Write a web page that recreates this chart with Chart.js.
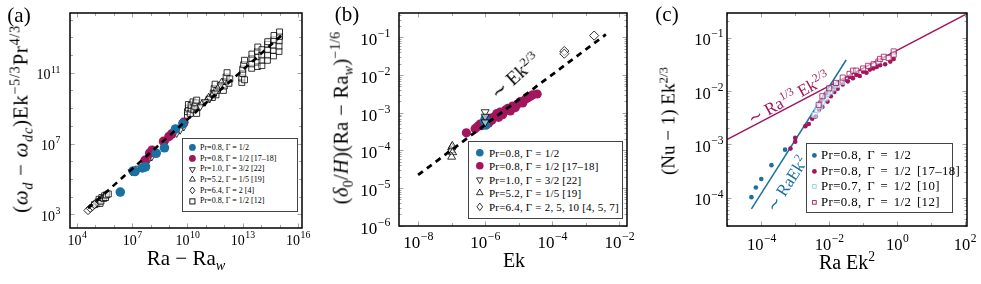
<!DOCTYPE html>
<html>
<head>
<meta charset="utf-8">
<script src="https://cdn.jsdelivr.net/npm/chart.js@4/dist/chart.umd.min.js"></script>
<style>
  body { margin: 0; background: #fff; width: 981px; height: 284px; position: relative; overflow: hidden; font-family: "Liberation Serif", serif; }
  canvas { position: absolute; top: 0; }
  .lbl { position: absolute; white-space: nowrap; transform: translate(-50%, -50%); color: #000; line-height: 1; }
  sub, sup { font-size: 68%; line-height: 0; }
  .leg { position: absolute; border: 1px solid #444; background: #fff; box-sizing: border-box; }
  .leg .row { position: absolute; white-space: nowrap; display: flex; align-items: center; }
  .leg svg { position: absolute; overflow: visible; }
</style>
</head>
<body>
<canvas id="ca" width="330" height="284" style="left:0"></canvas>
<canvas id="cb" width="325" height="284" style="left:330px"></canvas>
<canvas id="cc" width="326" height="284" style="left:655px"></canvas>

<div class="lbl" style="left:19px;top:15px;font-size:21px">(a)</div>
<div class="lbl" style="left:347px;top:14px;font-size:21px">(b)</div>
<div class="lbl" style="left:667px;top:14px;font-size:21px">(c)</div>

<div class="lbl" style="left:21px;top:119px;font-size:21px;letter-spacing:0.7px;transform:translate(-50%,-50%) rotate(-90deg)">(<i>ω</i><sub><i>d</i></sub> − <i>ω</i><sub><i>dc</i></sub>)Ek<sup>−5/3</sup>Pr<sup>4/3</sup></div>
<div class="lbl" style="left:186px;top:258px;font-size:21px">Ra − Ra<sub><i>w</i></sub></div>

<div class="lbl" style="left:341px;top:118px;font-size:20.5px;letter-spacing:0.3px;transform:translate(-50%,-50%) rotate(-90deg)">(<i>δ</i><sub>0</sub>/<i>H</i>)(Ra − Ra<sub><i>w</i></sub>)<sup>−1/6</sup></div>
<div class="lbl" style="left:514px;top:260px;font-size:20px">Ek</div>
<div class="lbl" style="left:515px;top:76px;font-size:19px;transform:translate(-50%,-50%) rotate(-42deg)">∼ Ek<sup>2/3</sup></div>

<div class="lbl" style="left:668px;top:121px;font-size:19px;transform:translate(-50%,-50%) rotate(-90deg)">(Nu − 1) Ek<sup>2/3</sup></div>
<div class="lbl" style="left:847px;top:262px;font-size:20px">Ra Ek<sup>2</sup></div>
<div class="lbl" style="left:789px;top:98px;font-size:17px;color:#a1165c;transform:translate(-50%,-50%) rotate(-29deg)">∼ Ra<sup>1/3</sup> Ek<sup>2/3</sup></div>
<div class="lbl" style="left:787px;top:184px;font-size:17px;color:#1b6fa1;transform:translate(-50%,-50%) rotate(-57deg)">∼ RaEk<sup>2</sup></div>

<div id="lega" class="leg" style="left:182px;top:138px;width:116px;height:74px;font-size:8px"></div>
<div id="legb" class="leg" style="left:468px;top:141px;width:155px;height:78px;font-size:11px;letter-spacing:0.2px"></div>
<div id="legc" class="leg" style="left:806px;top:143px;width:147px;height:70px;font-size:12.8px;letter-spacing:0.4px;word-spacing:2px"></div>

<script>
// all values below are log10 pairs [log x, log y]

/* ---------------- Panel (a) data ---------------- */
const aBlue = [[6.35, 4.26], [7.05, 5.45], [7.15, 5.42], [7.55, 5.62], [7.72, 5.68], [8.3, 6.45], [8.75, 6.76], [9.35, 7.82], [9.75, 8.12]];
const aPurple = [[7.7, 6.05], [7.95, 6.45], [8.08, 6.62], [8.7, 7.12], [9.0, 7.4], [9.15, 7.55], [9.8, 8.2]];
const aDown = [[6.97, 5.41], [7.33, 5.6], [7.88, 6.07], [8.06, 6.25], [8.69, 7.0], [8.9, 7.2], [9.41, 7.58], [9.6, 7.76], [9.8, 7.95],
  [10.7, 9.1], [10.95, 9.35], [11.2, 9.55], [11.5, 9.85], [11.8, 10.3]];
const aUp = [[10.8, 9.25], [11.05, 9.45], [11.15, 9.6], [11.4, 9.8], [11.7, 10.2], [11.85, 10.45]];
const aDiamond = [[4.6, 3.22], [4.72, 3.35], [4.85, 3.45], [4.95, 3.55]];
const aSquare = [
  [4.95, 3.55], [5.05, 3.6], [5.15, 3.7], [5.2, 3.85], [5.25, 3.62], [5.3, 3.75], [5.35, 3.95], [5.45, 3.9], [5.5, 4.05], [5.55, 3.95], [5.6, 4.1], [5.7, 4.15],
  [10.0, 8.6], [10.0, 8.8], [10.05, 9.0], [10.05, 9.2], [10.15, 8.7], [10.2, 8.95], [10.2, 9.15], [10.3, 9.35], [10.35, 8.9], [10.4, 9.1], [10.45, 9.3], [10.5, 8.7], [10.5, 9.45],
  [11.35, 9.6], [11.4, 9.85], [11.45, 10.1], [11.5, 10.35], [11.55, 9.75], [11.6, 10.0],
  [11.95, 10.0], [12.0, 10.25], [12.05, 10.5], [12.1, 10.75], [12.15, 11.0], [12.25, 10.4], [12.3, 10.65],
  [12.95, 10.45], [12.95, 10.7], [13.0, 10.95], [13.0, 11.2], [13.05, 11.45], [13.1, 11.7], [13.1, 10.6],
  [13.49, 11.25], [13.49, 11.5], [13.5, 11.8], [13.5, 12.05], [13.8, 11.35], [13.8, 11.6], [13.82, 11.9], [13.8, 12.2], [13.82, 12.45],
  [14.04, 11.4], [14.05, 11.7], [14.04, 12.0], [14.05, 12.3], [14.34, 11.7], [14.35, 12.0], [14.34, 12.3], [14.35, 12.6], [14.36, 12.75],
  [14.67, 11.95], [14.68, 12.25], [14.67, 12.55], [14.7, 12.85], [14.7, 13.1], [14.97, 12.2], [14.97, 12.5], [14.98, 12.8], [15.0, 13.05], [15.0, 13.3]
];
const aFit = [[4.6, 3.34], [15.1, 13.1]];
const aTicksX = [4, 7, 10, 13, 16];
const aTicksY = [3, 7, 11];

/* ---------------- Panel (b) data ---------------- */
const bBlue = [[-6.0, -3.15], [-5.98, -3.33], [-6.02, -3.22]];
const bPurple = [[-6.56, -3.53], [-6.3, -3.42], [-6.22, -3.36], [-6.15, -3.3], [-6.1, -3.34], [-6.05, -3.25], [-5.95, -3.2], [-5.9, -3.28],
  [-5.85, -3.15], [-5.8, -3.2], [-5.72, -3.1], [-5.65, -3.02], [-5.6, -3.12], [-5.55, -2.98], [-5.48, -3.05], [-5.4, -2.93],
  [-5.32, -2.88], [-5.25, -2.95], [-5.18, -2.82], [-5.1, -2.86], [-5.02, -2.76], [-4.95, -2.7], [-4.88, -2.74], [-4.8, -2.64],
  [-4.72, -2.6], [-4.65, -2.56], [-4.58, -2.52], [-4.45, -2.5]];
const bDown = [[-6.0, -2.98], [-6.0, -3.1], [-6.0, -3.25]];
const bUp = [[-7.0, -3.92], [-7.02, -4.0], [-6.97, -4.05], [-7.0, -4.17], [-6.98, -3.88]];
const bDiamond = [[-3.64, -1.36], [-3.64, -1.43], [-2.75, -0.95]];
const bFit = [[-8.0, -4.65], [-2.4, -0.92]];
const bTicksX = [-8, -6, -4, -2];
const bTicksY = [-1, -2, -3, -4, -5, -6];

/* ---------------- Panel (c) data ---------------- */
const cBlue = [[-4.29, -3.99], [-4.16, -3.81], [-4.0, -3.65], [-3.7, -3.39], [-3.3, -3.1]];
const cPurple = [[-3.14, -3.08], [-3.0, -2.95], [-3.0, -2.88], [-2.7, -2.66], [-2.6, -2.62], [-2.5, -2.52], [-2.4, -2.48],
  [-2.3, -2.35], [-2.25, -2.2], [-2.2, -2.3], [-2.15, -2.12], [-2.1, -2.05], [-2.05, -2.2], [-2.0, -2.0], [-1.95, -2.1],
  [-1.9, -1.95], [-1.85, -2.02], [-1.8, -1.9], [-1.75, -1.96], [-1.7, -1.85], [-1.6, -1.88], [-1.55, -1.8], [-1.45, -1.82],
  [-1.4, -1.74], [-1.3, -1.76], [-1.2, -1.7], [-1.1, -1.72], [-1.0, -1.64], [-0.9, -1.66], [-0.8, -1.6], [-0.7, -1.58],
  [-0.6, -1.55], [-0.5, -1.52], [-0.35, -1.5], [-0.2, -1.45], [-0.1, -1.4]];
const cLightSq = [[-2.43, -2.45], [-2.35, -2.35], [-2.26, -2.29], [-2.2, -2.2], [-2.11, -2.14], [-2.05, -2.05], [-1.96, -2.01], [-1.88, -1.95], [-1.77, -1.89], [-1.62, -1.83]];
const cPurpleSq = [[-2.31, -2.26], [-2.2, -2.1], [-2.0, -1.95], [-1.8, -1.85], [-1.6, -1.75], [-1.4, -1.68], [-1.3, -1.62], [-1.2, -1.62],
  [-1.0, -1.58], [-0.85, -1.53], [-0.69, -1.5], [-0.55, -1.45], [-0.5, -1.4], [-0.39, -1.36], [-0.25, -1.38], [-0.1, -1.26], [-0.1, -1.32]];
const cFitHigh = [[-5.0, -2.907], [2.1, -0.54]];
const cFitLow = [[-4.29, -4.21], [-1.5, -1.42]];
const cTicksX = [-4, -2, 0, 2];
const cTicksY = [-1, -2, -3, -4];

/* ---------------- Styling ---------------- */
const BLUE = "#1b6fa1";
const PURPLE = "#a1165c";
const LIGHT = "#86d0f2";
const OPEN = "rgba(255,255,255,0.55)";

const pts = arr => arr.map(([x, y]) => ({ x: Math.pow(10, x), y: Math.pow(10, y) }));

// inner tick marks, heavy frame and 10^n labels, pgfplots style
const frame = {
  id: "frame",
  afterDraw(chart, args, opt) {
    const { ctx, chartArea: a } = chart;
    ctx.save();
    ctx.strokeStyle = "#8c8c8c";
    ctx.lineWidth = 0.8;
    const mark = (s, v, len) => {
      const p = Math.round(s.getPixelForValue(v)) + 0.5;
      ctx.beginPath();
      if (s.isHorizontal()) {
        ctx.moveTo(p, a.bottom); ctx.lineTo(p, a.bottom - len);
        ctx.moveTo(p, a.top); ctx.lineTo(p, a.top + len);
      } else {
        ctx.moveTo(a.left, p); ctx.lineTo(a.left + len, p);
        ctx.moveTo(a.right, p); ctx.lineTo(a.right - len, p);
      }
      ctx.stroke();
    };
    ["x", "y"].forEach(id => {
      const s = chart.scales[id];
      const majors = s.ticks.map(t => Math.round(Math.log10(t.value)));
      majors.forEach(e => mark(s, Math.pow(10, e), 4.5));
      const lo = Math.floor(Math.log10(s.min)), hi = Math.ceil(Math.log10(s.max));
      for (let e = lo; e <= hi; e++) {
        if (opt[id] === "sub") {
          for (let k = 2; k < 10; k++) {
            const v = k * Math.pow(10, e);
            if (v > s.min && v < s.max) mark(s, v, 2.5);
          }
        }
        const d = Math.pow(10, e);
        if (opt[id] && !majors.includes(e) && d > s.min && d < s.max) mark(s, d, 3);
      }

      // tick labels as 10 with a raised exponent
      const f = opt.font;
      ctx.fillStyle = "#000";
      ctx.textAlign = "left";
      ctx.textBaseline = "alphabetic";
      majors.forEach(e => {
        const base = "10", ex = String(e).replace("-", "−");
        ctx.font = f + 'px "Liberation Serif"';
        const wb = ctx.measureText(base).width;
        ctx.font = (f * 0.7) + 'px "Liberation Serif"';
        const we = ctx.measureText(ex).width;
        const p = s.getPixelForValue(Math.pow(10, e));
        let x0, yb;
        if (id === "x") { x0 = p - (wb + we) / 2; yb = a.bottom + opt.xBase; }
        else { x0 = a.left - opt.yPad - wb - we; yb = p + f * 0.47; }
        ctx.font = f + 'px "Liberation Serif"';
        ctx.fillText(base, x0, yb);
        ctx.font = (f * 0.7) + 'px "Liberation Serif"';
        ctx.fillText(ex, x0 + wb + 0.5, yb - f * 0.48);
      });
    });
    ctx.strokeStyle = "#000";
    ctx.lineWidth = 1.5;
    ctx.strokeRect(a.left, a.top, a.right - a.left, a.bottom - a.top);
    ctx.restore();
  }
};

function panel(canvasId, cLeft, cWidth, area, xr, yr, xTicks, yTicks, look, datasets) {
  const axis = (range, ticks, horizontal) => ({
    type: "logarithmic",
    min: Math.pow(10, range[0]),
    max: Math.pow(10, range[1]),
    grid: { display: false },
    border: { display: false },
    ticks: { display: false },
    afterBuildTicks: s => { s.ticks = ticks.map(e => ({ value: Math.pow(10, e) })); },
    afterFit: s => {
      s.paddingLeft = s.paddingRight = s.paddingTop = s.paddingBottom = 0;
      if (horizontal) s.height = 284 - area.bottom;
      else s.width = area.left - cLeft;
    }
  });
  return new Chart(document.getElementById(canvasId), {
    type: "scatter",
    data: { datasets },
    options: {
      responsive: false,
      animation: false,
      devicePixelRatio: 1,
      layout: { padding: { left: 0, bottom: 0, top: area.top, right: cLeft + cWidth - area.right } },
      scales: { x: axis(xr, xTicks, true), y: axis(yr, yTicks, false) },
      plugins: { legend: { display: false }, tooltip: { enabled: false }, frame: look }
    },
    plugins: [frame]
  });
}

const dots = (data, color, r) => ({ data: pts(data), pointStyle: "circle", pointRadius: r, backgroundColor: color, borderWidth: 0 });
const open = (data, style, r, rot, stroke) => ({ data: pts(data), pointStyle: style, rotation: rot || 0, pointRadius: r, backgroundColor: OPEN, borderColor: stroke || "#000", borderWidth: 0.8 });
const fit = (data, color, width, dash) => ({ data: pts(data), showLine: true, pointRadius: 0, borderColor: color, borderWidth: width, borderDash: dash || [] });

/* ---------------- Charts ---------------- */
panel("ca", 0, 330, { left: 70, right: 302, top: 13, bottom: 228 }, [3.62, 16.22], [2.23, 14.37], aTicksX, aTicksY,
  { x: "dec", y: "dec", font: 14, xBase: 17, yPad: 10 }, [
  fit(aFit, "#000", 2.6, [6, 5]),
  dots(aBlue, BLUE, 4.8),
  dots(aPurple, PURPLE, 4.8),
  open(aDown, "triangle", 4.2, 180),
  open(aUp, "triangle", 4.2),
  open(aDiamond, "rectRot", 4.2),
  open(aSquare, "rect", 4.2)
]);

panel("cb", 330, 325, { left: 399, right: 627, top: 13, bottom: 226 }, [-8.57, -1.77], [-6.005, -0.35], bTicksX, bTicksY,
  { x: "dec", y: "sub", font: 17, xBase: 22, yPad: 9 }, [
  fit(bFit, "#000", 2.8, [6, 5]),
  open(bDown, "triangle", 4.6, 180),
  open(bUp, "triangle", 4.6),
  dots(bBlue, BLUE, 4.6),
  dots(bPurple, PURPLE, 4.6),
  open(bDiamond, "rectRot", 4.6)
]);

panel("cc", 655, 326, { left: 727, right: 967, top: 13, bottom: 226 }, [-5.01, 2.06], [-4.53, -0.54], cTicksX, cTicksY,
  { x: "dec", y: "sub", font: 16.5, xBase: 24, yPad: 4 }, [
  open(cPurpleSq, "rect", 3.6, 0, PURPLE),
  open(cLightSq, "rect", 3.6, 0, LIGHT),
  dots(cPurple, PURPLE, 2.3),
  dots(cBlue, BLUE, 2.3),
  fit(cFitLow, BLUE, 1.5),
  fit(cFitHigh, PURPLE, 1.5)
]);

/* ---------------- Legends ---------------- */
function marker(kind, color, r) {
  const s = 2 * r + 4, c = s / 2;
  let shape;
  if (kind === "dot") shape = `<circle cx="${c}" cy="${c}" r="${r}" fill="${color}"/>`;
  else if (kind === "down") shape = `<polygon points="${c - r * 0.87},${c - r * 0.5} ${c + r * 0.87},${c - r * 0.5} ${c},${c + r}" fill="none" stroke="#000" stroke-width="0.8"/>`;
  else if (kind === "up") shape = `<polygon points="${c - r * 0.87},${c + r * 0.5} ${c + r * 0.87},${c + r * 0.5} ${c},${c - r}" fill="none" stroke="#000" stroke-width="0.8"/>`;
  else if (kind === "diamond") shape = `<polygon points="${c},${c - r} ${c + r * 0.75},${c} ${c},${c + r} ${c - r * 0.75},${c}" fill="none" stroke="#000" stroke-width="0.8"/>`;
  else shape = `<rect x="${c - r * 0.75}" y="${c - r * 0.75}" width="${r * 1.5}" height="${r * 1.5}" fill="none" stroke="${color}" stroke-width="0.9"/>`;
  return { html: `<svg width="${s}" height="${s}">${shape}</svg>`, s };
}

function legend(id, items, firstRow, step, markX, textX, r) {
  const box = document.getElementById(id);
  items.forEach(([kind, color, label], i) => {
    const cy = firstRow + i * step;
    const m = marker(kind, color, r);
    box.insertAdjacentHTML("beforeend",
      `<div style="position:absolute;left:${markX - m.s / 2}px;top:${cy - m.s / 2}px;width:${m.s}px;height:${m.s}px">${m.html}</div>` +
      `<div class="row" style="left:${textX}px;top:${cy - step / 2}px;height:${step}px">${label}</div>`);
  });
}

const aLabels = ["Pr=0.8, Γ = 1/2", "Pr=0.8, Γ = 1/2 [17–18]", "Pr=1.0, Γ = 3/2 [22]", "Pr=5.2, Γ = 1/5 [19]", "Pr=6.4, Γ = 2 [4]", "Pr=0.8, Γ = 1/2 [12]"];
const bLabels = ["Pr=0.8, Γ = 1/2", "Pr=0.8, Γ = 1/2 [17–18]", "Pr=1.0, Γ = 3/2 [22]", "Pr=5.2, Γ = 1/5 [19]", "Pr=6.4, Γ = 2, 5, 10 [4, 5, 7]"];
const cLabels = ["Pr=0.8, Γ = 1/2", "Pr=0.8, Γ = 1/2 [17–18]", "Pr=0.7, Γ = 1/2 [10]", "Pr=0.8, Γ = 1/2 [12]"];

legend("lega", [["dot", BLUE, aLabels[0]], ["dot", PURPLE, aLabels[1]], ["down", "#000", aLabels[2]], ["up", "#000", aLabels[3]], ["diamond", "#000", aLabels[4]], ["sq", "#000", aLabels[5]]], 8.5, 10.7, 9.5, 17, 3.4);
legend("legb", [["dot", BLUE, bLabels[0]], ["dot", PURPLE, bLabels[1]], ["down", "#000", bLabels[2]], ["up", "#000", bLabels[3]], ["diamond", "#000", bLabels[4]]], 10.5, 13.5, 11, 20, 3.8);
legend("legc", [["dot", BLUE, cLabels[0]], ["dot", PURPLE, cLabels[1]], ["sq", LIGHT, cLabels[2]], ["sq", PURPLE, cLabels[3]]], 11.5, 15.5, 7, 14, 2.4);
</script>
</body>
</html>
